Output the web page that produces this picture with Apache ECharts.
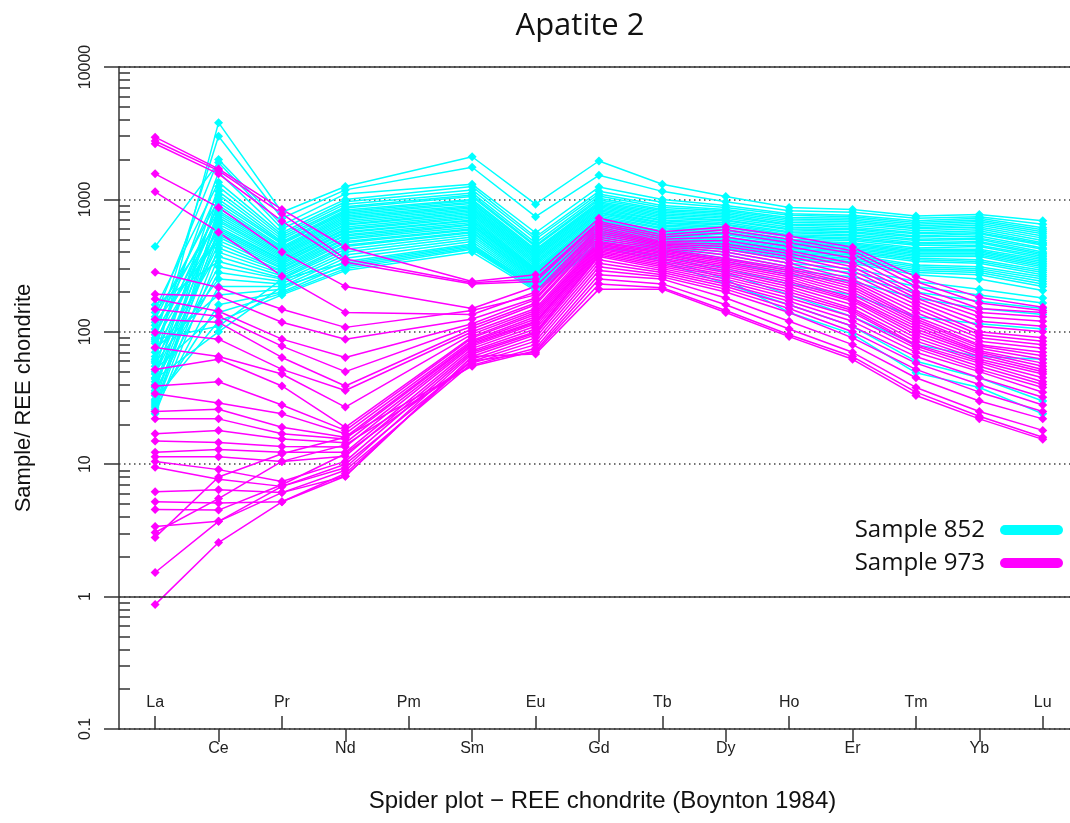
<!DOCTYPE html>
<html>
<head>
<meta charset="utf-8">
<title>Apatite 2</title>
<script src="https://cdn.jsdelivr.net/npm/echarts@6/dist/echarts.min.js"></script>
<style>
html, body { margin: 0; padding: 0; background: #fff; }
#chart { width: 1070px; height: 823px; }
</style>
</head>
<body>
<div id="chart"></div>
<script>
// REE order, Pm has no data
var elements = ["La", "Ce", "Pr", "Nd", "Pm", "Sm", "Eu", "Gd", "Tb", "Dy", "Ho", "Er", "Tm", "Yb", "Lu"];
var upperTicks = [0, 2, 4, 6, 8, 10, 12, 14];
var lowerTicks = [1, 3, 5, 7, 9, 11, 13];
var minorTicks = [0.2, 0.3, 0.4, 0.5, 0.6, 0.7, 0.8, 0.9,
    2, 3, 4, 5, 6, 7, 8, 9,
    20, 30, 40, 50, 60, 70, 80, 90,
    200, 300, 400, 500, 600, 700, 800, 900,
    2000, 3000, 4000, 5000, 6000, 7000, 8000, 9000];

// Sample 852 (cyan) : La Ce Pr Nd Pm Sm Eu Gd Tb Dy Ho Er Tm Yb Lu
var sample852 = [
    [60, 3800, 800, 1250, null, 2100, 920, 1950, 1300, 1050, 870, 840, 750, 770, 690],
    [90, 3000, 720, 1180, null, 1750, 740, 1520, 1150, 960, 820, 800, 720, 740, 650],
    [130, 2000, 640, 1100, null, 1300, 560, 1240, 1000, 900, 780, 760, 690, 720, 610],
    [440, 1900, 600, 1000, null, 1250, 520, 1150, 950, 870, 760, 740, 670, 700, 590],
    [75, 1600, 560, 960, null, 1180, 500, 1100, 900, 840, 730, 720, 650, 680, 570],
    [150, 1350, 540, 920, null, 1120, 470, 1060, 870, 820, 710, 700, 630, 660, 550],
    [45, 1250, 520, 880, null, 1080, 450, 1020, 840, 800, 690, 680, 610, 640, 530],
    [105, 1150, 500, 860, null, 1050, 440, 990, 820, 780, 670, 660, 600, 620, 510],
    [35, 1080, 480, 830, null, 1000, 420, 960, 800, 760, 650, 640, 580, 600, 490],
    [125, 1000, 470, 810, null, 980, 410, 940, 780, 740, 640, 620, 560, 580, 470],
    [55, 950, 460, 790, null, 950, 400, 920, 760, 720, 620, 600, 550, 560, 460],
    [82, 900, 440, 770, null, 930, 390, 900, 740, 700, 600, 590, 530, 550, 450],
    [25, 860, 430, 750, null, 900, 380, 880, 720, 690, 590, 570, 520, 530, 430],
    [112, 820, 420, 730, null, 880, 370, 860, 700, 670, 570, 560, 500, 510, 420],
    [65, 790, 410, 710, null, 860, 360, 840, 690, 650, 560, 540, 490, 500, 400],
    [40, 760, 400, 690, null, 840, 350, 820, 670, 640, 540, 530, 470, 480, 390],
    [95, 730, 390, 670, null, 820, 340, 800, 660, 620, 530, 510, 460, 470, 380],
    [30, 700, 380, 650, null, 800, 330, 790, 640, 610, 520, 500, 450, 450, 370],
    [140, 680, 370, 640, null, 780, 320, 770, 630, 590, 500, 490, 430, 440, 360],
    [50, 650, 360, 620, null, 760, 310, 750, 610, 580, 490, 470, 420, 420, 350],
    [70, 620, 350, 600, null, 740, 300, 730, 600, 560, 480, 460, 410, 410, 340],
    [28, 600, 345, 590, null, 720, 295, 710, 580, 550, 470, 450, 400, 400, 330],
    [100, 580, 335, 570, null, 700, 290, 700, 570, 540, 460, 440, 390, 390, 320],
    [38, 560, 325, 560, null, 690, 285, 690, 560, 520, 450, 430, 380, 380, 310],
    [85, 540, 315, 540, null, 670, 280, 670, 550, 510, 440, 420, 370, 370, 300],
    [33, 520, 305, 530, null, 650, 275, 650, 540, 500, 430, 410, 360, 350, 290],
    [118, 490, 300, 510, null, 640, 270, 640, 530, 490, 420, 400, 350, 340, 280],
    [48, 460, 290, 500, null, 620, 265, 630, 520, 480, 410, 390, 340, 330, 270],
    [27, 430, 285, 480, null, 600, 260, 610, 510, 470, 400, 380, 320, 310, 260],
    [62, 400, 275, 470, null, 590, 255, 600, 500, 460, 390, 370, 310, 300, 250],
    [24, 370, 265, 450, null, 570, 250, 580, 490, 450, 380, 360, 300, 290, 240],
    [160, 340, 255, 440, null, 560, 245, 570, 480, 440, 370, 350, 290, 280, 230],
    [42, 310, 250, 420, null, 540, 240, 560, 470, 430, 360, 340, 280, 270, 220],
    [36, 280, 240, 400, null, 520, 235, 550, 460, 420, 350, 330, 270, 250, 205],
    [58, 250, 230, 380, null, 500, 230, 530, 450, 400, 330, 300, 240, 210, 180],
    [26, 220, 220, 360, null, 480, 225, 510, 440, 380, 310, 280, 220, 190, 165],
    [75, 190, 210, 340, null, 460, 220, 490, 430, 360, 290, 260, 200, 170, 150],
    [29, 160, 200, 320, null, 440, 215, 470, 420, 340, 270, 240, 180, 150, 135],
    [52, 140, 195, 300, null, 420, 210, 450, 400, 300, 230, 190, 130, 115, 105],
    [31, 120, 190, 290, null, 400, 205, 430, 380, 280, 190, 130, 80, 65, 62],
    [88, 110, 250, 330, null, 450, 220, 460, 360, 250, 140, 96, 49, 38, 24],
    [44, 100, 220, 310, null, 430, 212, 440, 340, 230, 160, 110, 60, 45, 30]
];

// Sample 973 (magenta)
var sample973 = [
    [2950, 1700, 840, 435, null, 240, 270, 720, 570, 620, 530, 435, 260, 182, 153],
    [2760, 1650, 780, 355, null, 235, 250, 680, 540, 590, 500, 410, 240, 165, 145],
    [2630, 1560, 685, 335, null, 230, 240, 660, 520, 560, 470, 390, 220, 150, 140],
    [1560, 870, 400, 220, null, 150, 220, 640, 500, 520, 440, 360, 200, 140, 130],
    [1140, 565, 263, 140, null, 135, 200, 620, 480, 490, 410, 330, 190, 130, 120],
    [282, 216, 148, 108, null, 145, 190, 600, 470, 460, 390, 310, 180, 120, 110],
    [192, 186, 118, 88, null, 125, 180, 580, 460, 440, 370, 290, 170, 110, 100],
    [177, 143, 88, 64, null, 115, 175, 560, 450, 420, 350, 270, 160, 100, 90],
    [148, 131, 78, 50, null, 110, 165, 540, 440, 400, 330, 250, 150, 95, 85],
    [124, 118, 64, 39, null, 105, 160, 520, 430, 380, 310, 240, 140, 90, 80],
    [99, 88, 52, 36, null, 100, 150, 500, 420, 360, 300, 230, 130, 85, 75],
    [76, 65, 48, 27, null, 96, 145, 480, 410, 350, 290, 220, 125, 80, 70],
    [52, 62, 39, 19, null, 92, 140, 470, 400, 340, 280, 210, 120, 78, 66],
    [39, 42, 28, 18, null, 90, 135, 460, 390, 330, 270, 200, 115, 75, 62],
    [34, 29, 24, 17, null, 86, 130, 450, 380, 320, 260, 190, 110, 72, 58],
    [25, 26, 19, 16, null, 84, 125, 440, 370, 310, 250, 180, 105, 70, 55],
    [22, 22, 17, 15.5, null, 82, 120, 430, 360, 300, 240, 175, 100, 68, 52],
    [17, 18, 15.5, 14.5, null, 80, 118, 420, 350, 290, 230, 170, 95, 65, 50],
    [15, 14.6, 13.6, 13.5, null, 78, 115, 410, 340, 280, 220, 160, 90, 62, 48],
    [12.3, 12.9, 12.3, 12.3, null, 75, 110, 400, 330, 270, 210, 150, 85, 60, 45],
    [11.4, 11.4, 10.5, 11.5, null, 72, 105, 390, 320, 260, 200, 145, 80, 58, 42],
    [10.5, 9.1, 7.4, 10.5, null, 70, 100, 380, 310, 250, 190, 140, 78, 55, 40],
    [9.5, 7.7, 6.8, 9.4, null, 68, 98, 370, 300, 240, 180, 130, 75, 52, 38],
    [6.2, 6.4, 6.1, 8.1, null, 65, 95, 350, 290, 230, 170, 120, 70, 50, 35],
    [5.2, 5.1, 5.2, 8.5, null, 62, 90, 330, 280, 220, 160, 110, 65, 45, 32],
    [4.55, 4.5, 7.0, 12, null, 60, 85, 310, 270, 210, 150, 100, 58, 40, 28],
    [3.38, 3.7, 6.1, 9, null, 58, 80, 290, 260, 200, 140, 90, 52, 35, 25],
    [3.05, 5.5, 10.5, 14, null, 56, 75, 270, 250, 180, 120, 80, 45, 30, 22],
    [2.8, 8, 12, 16, null, 55, 72, 250, 230, 160, 105, 70, 38, 25, 18],
    [1.52, 3.7, 6.8, 10, null, 60, 70, 230, 215, 145, 95, 65, 35, 23, 16],
    [0.87, 2.56, 5.2, 8.1, null, 65, 68, 210, 210, 140, 92, 62, 33, 22, 15.4]
];

var CYAN = "#00ffff", MAGENTA = "#ff00ff";
var AXIS_FONT = "'Liberation Sans', Arial, sans-serif";
var TEXT_FONT = "'Open Sans', sans-serif";
var X_MIN = -0.57, X_MAX = 14.43;

function toPoints(row) {
    var pts = [];
    row.forEach(function (v, i) {
        if (v != null) pts.push([i, v]);
    });
    return pts;
}

function makeSeries(rows, name, color) {
    return rows.map(function (row) {
        return {
            type: "line",
            name: name,
            data: toPoints(row),
            symbol: "diamond",
            symbolSize: 9,
            lineStyle: { color: color, width: 1.5 },
            itemStyle: { color: color },
            emphasis: { disabled: true },
            silent: true
        };
    });
}

var series = makeSeries(sample852, "Sample 852", CYAN).concat(makeSeries(sample973, "Sample 973", MAGENTA));

// solid reference line at 1
series[0].markLine = {
    silent: true,
    symbol: "none",
    label: { show: false },
    lineStyle: { color: "#333", width: 1.5, type: "solid" },
    data: [{ yAxis: 1 }]
};

var pill = "path://M5,0L58,0A5,5,0,0,1,58,10L5,10A5,5,0,0,1,5,0Z";

var option = {
    animation: false,
    backgroundColor: "#fff",
    title: {
        text: "Apatite 2",
        left: 575,
        textAlign: "center",
        top: 6,
        textStyle: { fontFamily: TEXT_FONT, fontSize: 31, fontWeight: "normal", color: "#111" }
    },
    legend: {
        orient: "vertical",
        right: 7,
        top: 518,
        align: "right",
        itemWidth: 63,
        itemHeight: 12,
        itemGap: 9,
        padding: 0,
        selectedMode: false,
        textStyle: { fontFamily: TEXT_FONT, fontSize: 24, color: "#111", padding: [0, 10, 0, 0] },
        data: [
            { name: "Sample 852", icon: pill },
            { name: "Sample 973", icon: pill }
        ]
    },
    grid: { left: 119, right: 0, top: 67, bottom: 94 },
    xAxis: [
        {
            type: "value", min: X_MIN, max: X_MAX, position: "bottom",
            axisLine: { show: true, onZero: false, lineStyle: { color: "#333", width: 1.5 } },
            axisTick: { show: true, inside: true, length: 13, customValues: upperTicks, lineStyle: { color: "#333", width: 1.5 } },
            axisLabel: {
                inside: true, margin: 18, customValues: upperTicks,
                fontFamily: AXIS_FONT, fontSize: 16, color: "#222",
                formatter: function (v) { return elements[Math.round(v)]; }
            },
            splitLine: { show: false }
        },
        {
            type: "value", min: X_MIN, max: X_MAX, position: "bottom",
            axisLine: { show: false, onZero: false },
            axisTick: { show: true, inside: false, length: 13, customValues: lowerTicks, lineStyle: { color: "#333", width: 1.5 } },
            axisLabel: {
                margin: 12, customValues: lowerTicks,
                fontFamily: AXIS_FONT, fontSize: 16, color: "#222",
                formatter: function (v) { return elements[Math.round(v)]; }
            },
            splitLine: { show: false },
            name: "Spider plot \u2212 REE chondrite (Boynton 1984)",
            nameLocation: "middle",
            nameGap: 60,
            nameTextStyle: { fontFamily: AXIS_FONT, fontSize: 24, color: "#111", padding: [0, 0, 0, 16] }
        },
        {
            type: "value", min: X_MIN, max: X_MAX, position: "top",
            axisLine: { show: true, onZero: false, lineStyle: { color: "#333", width: 1.5 } },
            axisTick: { show: false },
            axisLabel: { show: false },
            splitLine: { show: false }
        }
    ],
    yAxis: [
        {
            type: "log", logBase: 10, min: 0.1, max: 10000, position: "left",
            axisLine: { show: true, onZero: false, lineStyle: { color: "#333", width: 1.5 } },
            axisTick: { show: true, inside: false, length: 15, lineStyle: { color: "#333", width: 1.5 } },
            axisLabel: {
                rotate: 90, margin: 25,
                fontFamily: AXIS_FONT, fontSize: 16, color: "#222",
                formatter: function (v) { return String(+v.toPrecision(6)); }
            },
            splitLine: { show: true, lineStyle: { color: "#444", width: 1.5, type: [1.5, 3.5] } },
            name: "Sample/ REE chondrite",
            nameLocation: "middle",
            nameRotate: 90,
            nameGap: 84,
            nameTextStyle: { fontFamily: AXIS_FONT, fontSize: 22, color: "#111" }
        },
        {
            type: "log", logBase: 10, min: 0.1, max: 10000, position: "left",
            axisLine: { show: false, onZero: false },
            axisTick: { show: true, inside: true, length: 11, customValues: minorTicks, lineStyle: { color: "#333", width: 1.5 } },
            axisLabel: { show: false },
            splitLine: { show: false }
        }
    ],
    series: series
};

var chart = echarts.init(document.getElementById("chart"), null, { renderer: "canvas" });
chart.setOption(option);
</script>
</body>
</html>
